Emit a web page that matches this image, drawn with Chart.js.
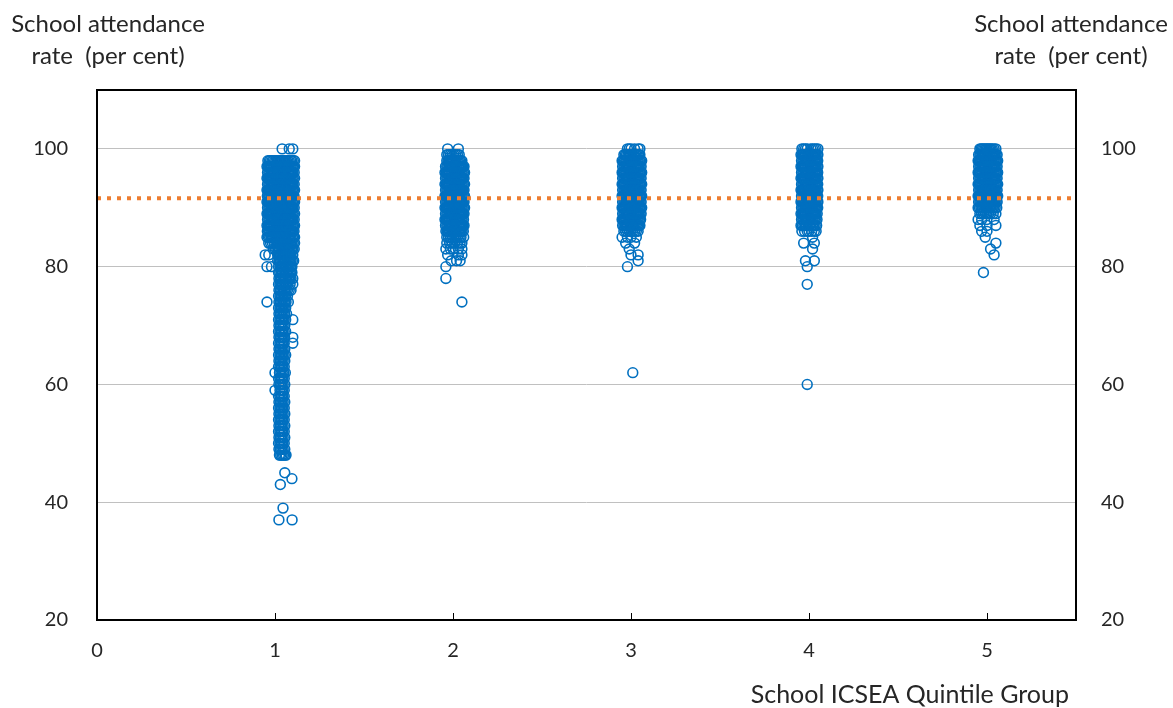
<!DOCTYPE html>
<html><head><meta charset="utf-8">
<script src="https://cdn.jsdelivr.net/npm/chart.js@4/dist/chart.umd.min.js"></script>
<style>html,body{margin:0;padding:0;background:#fff}#wrap{position:relative;width:1173px;height:708px}</style>
</head><body><div id="wrap"><canvas id="c" width="1173" height="708"></canvas></div>
<script>
// Tick labels
const yTicks = [20, 40, 60, 80, 100];
const xTicks = [0, 1, 2, 3, 4, 5];
// Average attendance rate (dotted reference line)
const averageRate = 91.6;
// Each row: [attendance rate, jittered x positions of schools with that rate...]
const group1 = [
 [100,1.04,1.08,1.10],
 [98,0.96,0.968,0.975,0.983,0.99,0.998,1.005,1.013,1.02,1.028,1.035,1.043,1.05,1.058,1.065,1.073,1.08,1.088,1.095,1.103,1.11],
 [97,0.955,0.962,0.968,0.975,0.981,0.988,0.994,1.0,1.007,1.013,1.02,1.026,1.033,1.039,1.046,1.052,1.059,1.065,1.072,1.078,1.085,1.091,1.098,1.104,1.11],
 [96,0.958,0.965,0.971,0.978,0.984,0.991,0.997,1.004,1.01,1.017,1.023,1.03,1.036,1.043,1.049,1.056,1.062,1.069,1.075,1.082,1.088,1.095,1.101,1.108],
 [95,0.955,0.961,0.967,0.974,0.98,0.987,0.993,1.0,1.006,1.012,1.019,1.025,1.032,1.038,1.045,1.051,1.058,1.064,1.071,1.077,1.084,1.09,1.097,1.103,1.11],
 [94,0.958,0.965,0.971,0.978,0.984,0.991,0.997,1.004,1.01,1.017,1.023,1.03,1.036,1.043,1.049,1.056,1.062,1.069,1.075,1.082,1.088,1.095,1.101,1.108],
 [93,0.955,0.962,0.968,0.975,0.981,0.988,0.994,1.0,1.007,1.013,1.02,1.026,1.033,1.039,1.046,1.052,1.059,1.065,1.072,1.078,1.085,1.091,1.098,1.104,1.11],
 [92,0.957,0.964,0.97,0.977,0.983,0.99,0.996,1.003,1.009,1.016,1.022,1.029,1.035,1.042,1.048,1.055,1.061,1.068,1.074,1.081,1.087,1.094,1.1,1.107],
 [91,0.955,0.962,0.968,0.975,0.981,0.988,0.994,1.0,1.007,1.013,1.02,1.026,1.033,1.039,1.046,1.052,1.059,1.065,1.072,1.078,1.085,1.091,1.098,1.104,1.11],
 [90,0.958,0.965,0.971,0.978,0.984,0.991,0.997,1.004,1.01,1.017,1.023,1.03,1.036,1.043,1.049,1.056,1.062,1.069,1.075,1.082,1.088,1.095,1.101,1.108],
 [89,0.955,0.961,0.967,0.974,0.98,0.987,0.993,1.0,1.006,1.012,1.019,1.025,1.032,1.038,1.045,1.051,1.058,1.064,1.071,1.077,1.084,1.09,1.097,1.103,1.11],
 [88,0.958,0.965,0.971,0.978,0.984,0.991,0.997,1.004,1.01,1.017,1.023,1.03,1.036,1.043,1.049,1.056,1.062,1.069,1.075,1.082,1.088,1.095,1.101,1.108],
 [87,0.955,0.962,0.968,0.975,0.981,0.988,0.994,1.0,1.007,1.013,1.02,1.026,1.033,1.039,1.046,1.052,1.059,1.065,1.072,1.078,1.085,1.091,1.098,1.104,1.11],
 [86,0.957,0.964,0.97,0.977,0.983,0.99,0.996,1.003,1.009,1.016,1.022,1.029,1.035,1.042,1.048,1.055,1.061,1.068,1.074,1.081,1.087,1.094,1.1,1.107],
 [85,0.955,0.963,0.97,0.978,0.985,0.993,1.0,1.008,1.015,1.023,1.03,1.038,1.045,1.053,1.06,1.068,1.075,1.083,1.09,1.098,1.105,1.11],
 [84,0.965,0.975,0.985,0.995,1.005,1.013,1.02,1.028,1.035,1.043,1.05,1.058,1.065,1.073,1.08,1.088,1.095,1.103,1.11],
 [83,0.99,1.0,1.01,1.018,1.025,1.033,1.04,1.048,1.055,1.063,1.07,1.078,1.085,1.093,1.1,1.108],
 [82,0.945,0.965,1.015,1.023,1.03,1.038,1.045,1.053,1.06,1.068,1.075,1.083,1.09,1.1],
 [81,1.015,1.023,1.03,1.038,1.045,1.053,1.06,1.068,1.075,1.083,1.09,1.098,1.105],
 [80,0.955,0.98,1.02,1.028,1.035,1.043,1.05,1.058,1.065,1.073,1.08,1.088,1.095],
 [79,1.02,1.027,1.035,1.042,1.05,1.057,1.065,1.072,1.08,1.087,1.095],
 [78,1.022,1.03,1.037,1.045,1.052,1.06,1.067,1.075,1.082,1.09,1.1],
 [77,1.02,1.028,1.035,1.043,1.05,1.058,1.065,1.073,1.085,1.1],
 [76,1.022,1.03,1.038,1.046,1.054,1.062,1.07,1.08,1.09],
 [75,1.02,1.028,1.036,1.044,1.052,1.06,1.07],
 [74,0.955,1.022,1.03,1.038,1.046,1.054,1.062,1.075],
 [73,1.02,1.028,1.036,1.044,1.052,1.06],
 [72,1.022,1.03,1.038,1.046,1.054,1.065],
 [71,1.02,1.028,1.036,1.044,1.052,1.06,1.1],
 [70,1.022,1.03,1.038,1.046,1.055],
 [69,1.02,1.028,1.036,1.044,1.052,1.06],
 [68,1.022,1.03,1.038,1.046,1.054,1.1],
 [67,1.02,1.028,1.036,1.044,1.052,1.1],
 [66,1.022,1.03,1.038,1.046,1.055],
 [65,1.02,1.028,1.036,1.044,1.052,1.06],
 [64,1.022,1.03,1.038,1.046,1.055],
 [63,1.02,1.028,1.036,1.044,1.052],
 [62,1.0,1.025,1.033,1.041,1.049,1.058],
 [61,1.02,1.028,1.036,1.044,1.052],
 [60,1.022,1.03,1.038,1.046,1.055],
 [59,1.0,1.028,1.036,1.044,1.052],
 [58,1.02,1.028,1.036,1.044,1.052],
 [57,1.022,1.03,1.038,1.046,1.055],
 [56,1.02,1.028,1.036,1.044,1.052],
 [55,1.022,1.03,1.038,1.046,1.055],
 [54,1.02,1.028,1.036,1.044,1.052],
 [53,1.022,1.03,1.038,1.046,1.055],
 [52,1.02,1.028,1.036,1.044,1.052],
 [51,1.022,1.03,1.038,1.046,1.055],
 [50,1.02,1.028,1.036,1.044,1.052],
 [49,1.022,1.03,1.038,1.046,1.055],
 [48,1.025,1.032,1.04,1.048,1.056,1.062],
 [45,1.055],
 [44,1.095],
 [43,1.03],
 [39,1.045],
 [37,1.022,1.096]
];
const group2 = [
 [100,1.97,2.03],
 [99,1.965,1.975,1.985,1.995,2.005,2.015,2.025,2.035],
 [98,1.965,1.972,1.978,1.985,1.991,1.998,2.004,2.011,2.017,2.024,2.03,2.037,2.043,2.05],
 [97,1.958,1.965,1.971,1.978,1.984,1.991,1.997,2.004,2.01,2.017,2.023,2.03,2.036,2.043,2.049,2.056,2.062],
 [96,1.955,1.962,1.968,1.975,1.981,1.988,1.994,2.0,2.007,2.013,2.02,2.026,2.033,2.039,2.046,2.052,2.059,2.065],
 [95,1.958,1.965,1.971,1.978,1.984,1.991,1.997,2.004,2.01,2.017,2.023,2.03,2.036,2.043,2.049,2.056,2.062],
 [94,1.955,1.962,1.968,1.975,1.981,1.988,1.994,2.0,2.007,2.013,2.02,2.026,2.033,2.039,2.046,2.052,2.059,2.065],
 [93,1.958,1.965,1.971,1.978,1.984,1.991,1.997,2.004,2.01,2.017,2.023,2.03,2.036,2.043,2.049,2.056,2.062],
 [92,1.955,1.962,1.968,1.975,1.981,1.988,1.994,2.0,2.007,2.013,2.02,2.026,2.033,2.039,2.046,2.052,2.059,2.065],
 [91,1.958,1.965,1.971,1.978,1.984,1.991,1.997,2.004,2.01,2.017,2.023,2.03,2.036,2.043,2.049,2.056,2.062],
 [90,1.955,1.962,1.968,1.975,1.981,1.988,1.994,2.0,2.007,2.013,2.02,2.026,2.033,2.039,2.046,2.052,2.059,2.065],
 [89,1.958,1.965,1.971,1.978,1.984,1.991,1.997,2.004,2.01,2.017,2.023,2.03,2.036,2.043,2.049,2.056,2.062],
 [88,1.955,1.962,1.968,1.975,1.981,1.988,1.994,2.0,2.007,2.013,2.02,2.026,2.033,2.039,2.046,2.052,2.059],
 [87,1.958,1.965,1.971,1.978,1.984,1.991,1.997,2.004,2.01,2.017,2.023,2.03,2.036,2.043,2.049,2.056,2.062],
 [86,1.96,1.967,1.974,1.981,1.988,1.995,2.002,2.009,2.016,2.023,2.03,2.037,2.044,2.051,2.058],
 [85,1.965,1.975,1.985,1.995,2.005,2.015,2.025,2.035,2.045,2.06],
 [84,1.965,1.98,1.995,2.01,2.025,2.04,2.05],
 [83,1.96,1.985,2.0,2.03,2.05],
 [82,1.97,2.03,2.05],
 [81,1.99,2.02,2.04],
 [80,1.96],
 [78,1.96],
 [74,2.05]
];
const group3 = [
 [100,2.98,2.99,3.0,3.02,3.04,3.05],
 [99,2.96,2.968,2.975,2.983,2.99,2.998,3.005,3.013,3.02,3.028,3.035,3.043,3.05],
 [98,2.95,2.957,2.963,2.97,2.976,2.983,2.989,2.996,3.002,3.009,3.015,3.022,3.028,3.035,3.041,3.048,3.054,3.06],
 [97,2.953,2.96,2.966,2.973,2.979,2.986,2.992,2.999,3.005,3.012,3.018,3.025,3.031,3.038,3.044,3.051,3.057],
 [96,2.95,2.957,2.963,2.97,2.976,2.983,2.989,2.996,3.002,3.009,3.015,3.022,3.028,3.035,3.041,3.048,3.054,3.06],
 [95,2.953,2.96,2.966,2.973,2.979,2.986,2.992,2.999,3.005,3.012,3.018,3.025,3.031,3.038,3.044,3.051,3.057],
 [94,2.95,2.957,2.963,2.97,2.976,2.983,2.989,2.996,3.002,3.009,3.015,3.022,3.028,3.035,3.041,3.048,3.054,3.06],
 [93,2.953,2.96,2.966,2.973,2.979,2.986,2.992,2.999,3.005,3.012,3.018,3.025,3.031,3.038,3.044,3.051,3.057],
 [92,2.95,2.957,2.963,2.97,2.976,2.983,2.989,2.996,3.002,3.009,3.015,3.022,3.028,3.035,3.041,3.048,3.054,3.06],
 [91,2.953,2.96,2.966,2.973,2.979,2.986,2.992,2.999,3.005,3.012,3.018,3.025,3.031,3.038,3.044,3.051,3.057],
 [90,2.95,2.957,2.963,2.97,2.976,2.983,2.989,2.996,3.002,3.009,3.015,3.022,3.028,3.035,3.041,3.048,3.054,3.06],
 [89,2.953,2.96,2.966,2.973,2.979,2.986,2.992,2.999,3.005,3.012,3.018,3.025,3.031,3.038,3.044,3.051,3.057],
 [88,2.95,2.957,2.963,2.97,2.976,2.983,2.989,2.996,3.002,3.009,3.015,3.022,3.028,3.035,3.041,3.048,3.054],
 [87,2.953,2.96,2.967,2.974,2.981,2.988,2.995,3.002,3.009,3.016,3.023,3.03,3.037,3.044,3.05],
 [86,2.96,2.97,2.98,2.99,3.0,3.01,3.02,3.03,3.04],
 [85,2.95,2.98,3.0,3.03],
 [84,2.97,3.02],
 [83,2.99],
 [82,3.0,3.04],
 [81,3.04],
 [80,2.98],
 [62,3.01]
];
const group4 = [
 [100,3.96,3.97,3.98,3.99,4.01,4.02,4.03,4.04,4.05],
 [99,3.955,3.962,3.968,3.975,3.981,3.988,3.994,4.0,4.007,4.013,4.02,4.026,4.033,4.039,4.046,4.05],
 [98,3.958,3.965,3.971,3.978,3.984,3.991,3.997,4.004,4.01,4.017,4.023,4.03,4.036,4.043,4.049],
 [97,3.955,3.962,3.968,3.975,3.981,3.988,3.994,4.0,4.007,4.013,4.02,4.026,4.033,4.039,4.046,4.05],
 [96,3.958,3.965,3.971,3.978,3.984,3.991,3.997,4.004,4.01,4.017,4.023,4.03,4.036,4.043,4.049],
 [95,3.955,3.962,3.968,3.975,3.981,3.988,3.994,4.0,4.007,4.013,4.02,4.026,4.033,4.039,4.046,4.05],
 [94,3.958,3.965,3.971,3.978,3.984,3.991,3.997,4.004,4.01,4.017,4.023,4.03,4.036,4.043,4.049],
 [93,3.955,3.962,3.968,3.975,3.981,3.988,3.994,4.0,4.007,4.013,4.02,4.026,4.033,4.039,4.046,4.05],
 [92,3.958,3.965,3.971,3.978,3.984,3.991,3.997,4.004,4.01,4.017,4.023,4.03,4.036,4.043,4.049],
 [91,3.955,3.962,3.968,3.975,3.981,3.988,3.994,4.0,4.007,4.013,4.02,4.026,4.033,4.039,4.046,4.05],
 [90,3.958,3.965,3.971,3.978,3.984,3.991,3.997,4.004,4.01,4.017,4.023,4.03,4.036,4.043,4.049],
 [89,3.955,3.962,3.968,3.975,3.981,3.988,3.994,4.0,4.007,4.013,4.02,4.026,4.033,4.039,4.046],
 [88,3.958,3.965,3.971,3.978,3.984,3.991,3.997,4.004,4.01,4.017,4.023,4.03,4.036,4.045],
 [87,3.955,3.963,3.971,3.979,3.987,3.995,4.003,4.011,4.019,4.027,4.035,4.043],
 [86,3.96,3.975,3.99,4.0,4.015,4.03,4.04],
 [85,4.02],
 [84,3.97,4.03],
 [83,4.02],
 [81,3.98,4.03],
 [80,3.99],
 [77,3.99],
 [60,3.99]
];
const group5 = [
 [100,4.96,4.967,4.974,4.981,4.988,4.995,5.002,5.009,5.016,5.023,5.03,5.04,5.05],
 [99,4.953,4.96,4.966,4.973,4.979,4.986,4.992,4.999,5.005,5.012,5.018,5.025,5.031,5.038,5.044,5.051,5.057],
 [98,4.95,4.957,4.963,4.97,4.976,4.983,4.989,4.996,5.002,5.009,5.015,5.022,5.028,5.035,5.041,5.048,5.054,5.06],
 [97,4.953,4.96,4.966,4.973,4.979,4.986,4.992,4.999,5.005,5.012,5.018,5.025,5.031,5.038,5.044,5.051,5.057],
 [96,4.95,4.957,4.963,4.97,4.976,4.983,4.989,4.996,5.002,5.009,5.015,5.022,5.028,5.035,5.041,5.048,5.054,5.06],
 [95,4.953,4.96,4.966,4.973,4.979,4.986,4.992,4.999,5.005,5.012,5.018,5.025,5.031,5.038,5.044,5.051,5.057],
 [94,4.95,4.957,4.963,4.97,4.976,4.983,4.989,4.996,5.002,5.009,5.015,5.022,5.028,5.035,5.041,5.048,5.054,5.06],
 [93,4.953,4.96,4.966,4.973,4.979,4.986,4.992,4.999,5.005,5.012,5.018,5.025,5.031,5.038,5.044,5.051,5.057],
 [92,4.95,4.957,4.963,4.97,4.976,4.983,4.989,4.996,5.002,5.009,5.015,5.022,5.028,5.035,5.041,5.048,5.054,5.06],
 [91,4.953,4.96,4.966,4.973,4.979,4.986,4.992,4.999,5.005,5.012,5.018,5.025,5.031,5.038,5.044,5.051,5.057],
 [90,4.95,4.958,4.966,4.974,4.982,4.99,4.998,5.006,5.014,5.022,5.03,5.038,5.046,5.055],
 [89,4.96,4.97,4.98,4.99,5.0,5.01,5.02,5.035,5.05],
 [88,4.95,4.97,5.0,5.04],
 [87,4.96,5.0,5.05],
 [86,4.97,5.0],
 [85,4.99],
 [84,5.05],
 [83,5.02],
 [82,5.04],
 [79,4.98]
];

function toPoints(rows){
  const out = [];
  rows.forEach(r => { for (let i = 1; i < r.length; i++) out.push({x: r[i], y: r[0]}); });
  return out;
}
const schools = [].concat(toPoints(group1), toPoints(group2), toPoints(group3), toPoints(group4), toPoints(group5));

const FONT = 'Lato, "Open Sans", sans-serif';
const TXT = '#262626';

const decor = {
  id: 'decor',
  afterDraw(chart) {
    const ctx = chart.ctx, a = chart.chartArea, xs = chart.scales.x;
    ctx.save();
    ctx.strokeStyle = '#000'; ctx.lineWidth = 1;
    xTicks.forEach(v => {
      if (v === 0) return;
      const px = Math.round(xs.getPixelForValue(v)) + 0.5;
      ctx.beginPath(); ctx.moveTo(px, a.bottom); ctx.lineTo(px, a.bottom - 7); ctx.stroke();
    });
    ctx.lineWidth = 2; ctx.strokeStyle = '#000';
    ctx.strokeRect(a.left, a.top, a.right - a.left, a.bottom - a.top);
    ctx.fillStyle = TXT; ctx.textBaseline = 'middle'; ctx.textAlign = 'center';
    ctx.font = '24px ' + FONT;
    ctx.fillText('School attendance', 108, 24);
    ctx.fillText('rate  (per cent)', 108, 56);
    ctx.fillText('School attendance', 1071, 24);
    ctx.fillText('rate  (per cent)', 1071, 56);
    ctx.font = '25px ' + FONT;
    ctx.textAlign = 'right';
    ctx.fillText('School ICSEA Quintile Group', 1069, 695);
    ctx.restore();
  }
};

new Chart(document.getElementById('c'), {
  type: 'scatter',
  data: {
    datasets: [
      {
        type: 'line',
        data: [{x: 0, y: averageRate}, {x: 5.5, y: averageRate}],
        borderColor: '#ED7D31', borderWidth: 4, borderDash: [4, 6],
        pointRadius: 0, fill: false, order: 0
      },
      {
        data: schools,
        pointRadius: 4.9, pointBorderWidth: 1.6,
        pointBorderColor: '#0070C0', pointBackgroundColor: 'rgba(0,0,0,0)',
        borderColor: '#0070C0', backgroundColor: 'rgba(0,0,0,0)',
        order: 1
      }
    ]
  },
  options: {
    responsive: false, animation: false, devicePixelRatio: 1,
    layout: {padding: {top: 90, left: 0, right: 0, bottom: 0}},
    plugins: {legend: {display: false}, tooltip: {enabled: false}},
    scales: {
      x: {
        type: 'linear', min: 0, max: 5.5,
        afterBuildTicks: s => { s.ticks = xTicks.map(v => ({value: v})); },
        afterFit: s => { s.height = 88; },
        grid: {display: false, drawTicks: false},
        border: {display: false},
        ticks: {color: TXT, font: {family: FONT, size: 20}, padding: 19}
      },
      y: {
        type: 'linear', position: 'left', min: 20, max: 110,
        afterBuildTicks: s => { s.ticks = yTicks.map(v => ({value: v})); },
        afterFit: s => { s.width = 97; },
        grid: {color: '#C0C0C0', lineWidth: 1, drawTicks: false},
        border: {display: false},
        ticks: {color: TXT, font: {family: FONT, size: 20}, padding: 29}
      },
      y2: {
        type: 'linear', position: 'right', min: 20, max: 110,
        afterBuildTicks: s => { s.ticks = yTicks.map(v => ({value: v})); },
        afterFit: s => { s.width = 97; },
        grid: {display: false, drawTicks: false},
        border: {display: false},
        ticks: {color: TXT, font: {family: FONT, size: 20}, padding: 25}
      }
    }
  },
  plugins: [decor]
});
</script>
</body></html>
